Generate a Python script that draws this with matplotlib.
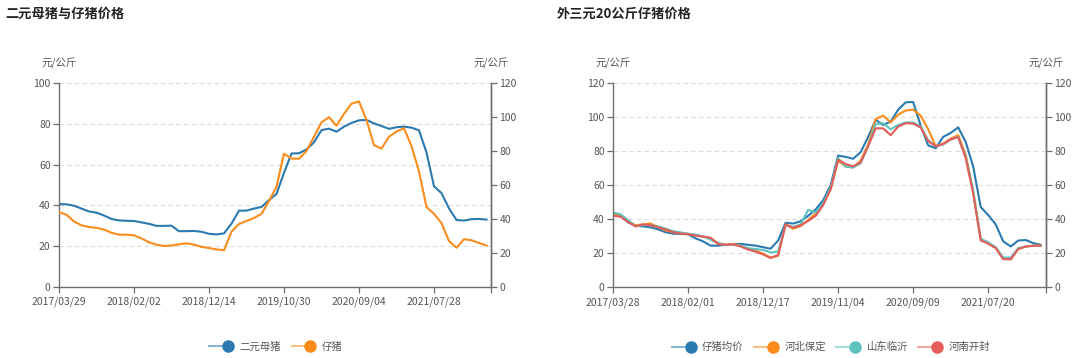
import matplotlib
matplotlib.use('Agg')
import matplotlib.pyplot as plt
from matplotlib.lines import Line2D
from matplotlib.legend_handler import HandlerTuple
import numpy as np

plt.rcParams['font.family'] = ['Noto Sans CJK SC', 'DejaVu Sans']

# ---- left chart: 二元母猪与仔猪价格 (one point every ~ 1/10 of a label interval)
left_ticks = ['2017/03/29', '2018/02/02', '2018/12/14', '2019/10/30', '2020/09/04', '2021/07/28']
sow = [40.6, 40.5, 39.8, 38.4, 37.0, 36.4, 35.0, 33.3, 32.6, 32.4,
       32.3, 31.6, 30.9, 29.9, 29.9, 30.0, 27.3, 27.3, 27.4, 27.0,
       26.0, 25.7, 26.2, 31.0, 37.4, 37.4, 38.4, 39.2, 42.6, 45.6,
       56.0, 65.5, 65.6, 67.5, 71.0, 77.0, 77.7, 76.2, 78.7, 80.5,
       81.8, 82.0, 80.3, 79.0, 77.6, 78.4, 78.7, 78.2, 76.9, 66.0,
       49.4, 46.0, 38.5, 32.8, 32.5, 33.2, 33.3, 33.0]
piglet = [43.9, 42.5, 38.5, 36.2, 35.2, 34.7, 33.7, 31.8, 30.7, 30.7,
          30.3, 28.5, 26.2, 24.8, 24.0, 24.3, 25.0, 25.6, 24.8, 23.5,
          22.8, 22.0, 21.5, 32.5, 37.0, 38.8, 40.5, 43.0, 50.5, 59.0,
          78.5, 75.6, 75.5, 80.0, 88.5, 97.0, 100.0, 95.0, 102.0, 108.0,
          109.3, 98.4, 83.5, 81.5, 88.5, 91.5, 93.5, 83.0, 68.0, 47.0,
          43.0, 37.5, 27.0, 23.0, 28.0, 27.4, 25.8, 24.3]

# ---- right chart: 外三元20公斤仔猪价格
right_ticks = ['2017/03/28', '2018/02/01', '2018/12/17', '2019/11/04', '2020/09/09', '2021/07/20']
avg_price = [43.9, 42.2, 38.2, 36.3, 35.8, 35.3, 34.1, 32.4, 31.6, 31.4,
             31.2, 28.8, 27.0, 24.5, 24.5, 25.0, 25.5, 25.5, 25.0, 24.5,
             23.6, 22.7, 27.5, 38.0, 37.5, 38.8, 42.0, 45.8, 51.2, 60.0,
             77.5, 76.7, 75.6, 79.5, 88.5, 98.5, 95.5, 97.5, 104.5, 108.8,
             109.0, 95.0, 83.5, 81.8, 88.5, 90.8, 94.1, 85.5, 71.0, 47.2,
             42.5, 37.0, 27.0, 24.0, 27.5, 27.8, 26.0, 25.0]
hebei = [43.0, 42.5, 39.0, 36.5, 37.0, 37.5, 35.5, 33.5, 32.5, 32.0,
         31.5, 30.5, 30.0, 28.5, 26.0, 25.0, 25.5, 24.5, 22.5, 21.5,
         19.8, 17.5, 18.5, 37.0, 34.5, 36.0, 39.5, 43.5, 49.0, 58.0,
         74.5, 71.0, 70.5, 74.5, 84.0, 99.0, 101.0, 97.0, 101.5, 104.0,
         104.5, 101.0, 93.0, 83.0, 84.5, 87.5, 89.5, 78.0, 56.0, 28.5,
         26.0, 23.5, 17.0, 16.5, 22.5, 24.0, 24.5, 24.5]
shandong = [44.0, 43.0, 39.5, 36.0, 36.5, 36.5, 35.8, 34.5, 33.0, 32.3,
            31.5, 31.0, 30.0, 28.0, 26.0, 25.0, 25.0, 24.5, 23.0, 22.5,
            22.0, 20.5, 21.0, 36.5, 35.5, 37.0, 45.5, 44.0, 49.5, 58.5,
            76.0, 71.0, 70.5, 73.0, 83.0, 96.0, 96.5, 93.0, 95.5, 97.0,
            97.0, 94.5, 86.5, 83.0, 84.0, 87.0, 88.5, 77.0, 57.0, 28.5,
            26.5, 23.5, 17.5, 17.5, 23.0, 24.0, 24.5, 24.5]
henan = [42.1, 41.5, 38.5, 35.8, 37.0, 36.5, 35.3, 34.0, 32.5, 31.6,
         31.2, 30.4, 29.8, 29.2, 25.5, 25.0, 25.2, 24.0, 22.2, 21.0,
         19.3, 17.2, 19.0, 37.0, 35.0, 36.5, 39.0, 42.0, 48.3, 57.5,
         75.0, 72.5, 71.2, 73.5, 83.0, 93.5, 93.5, 89.5, 94.5, 96.5,
         96.3, 94.0, 86.0, 83.0, 84.3, 87.0, 88.3, 76.0, 55.0, 27.6,
         25.6, 23.0, 16.5, 16.5, 22.5, 24.0, 24.4, 24.5]

BLUE = '#2a7ab0'
ORANGE = '#fb8c1c'
TEAL = '#5ec2c0'
RED = '#e45d5a'
AXC = '#6e6e6e'
TXT = '#555555'
FS = 7.5

fig = plt.figure(figsize=(10.8, 3.58), dpi=100)
axL = fig.add_axes([59 / 1080, 0.1992, (491 - 59) / 1080, 0.5681])
axR = fig.add_axes([613 / 1080, 0.1975, (1046 - 613) / 1080, 0.5698])


def style(ax, ax2, ticks, xmax, lmax, lstep, rmax):
    ax.set_xlim(0, xmax)
    ax.set_ylim(0, lmax)
    ax2.set_ylim(0, rmax)
    ax.set_xticks(np.arange(len(ticks)) * 10)
    ax.set_xticklabels(ticks)
    ax.set_xticks([xmax], minor=True)
    ax.set_yticks(np.arange(0, lmax + 1, lstep))
    ax2.set_yticks(np.arange(0, rmax + 1, 20))
    ax.grid(axis='y', color='#dcdcdc', linestyle=(0, (4, 3)), linewidth=0.8)
    ax.set_axisbelow(True)
    for a in (ax, ax2):
        a.spines['top'].set_visible(False)
        for s in ('left', 'right', 'bottom'):
            a.spines[s].set_color(AXC)
            a.spines[s].set_linewidth(1.0)
        a.tick_params(axis='both', which='both', colors=AXC, labelcolor=TXT,
                      labelsize=FS, length=4, width=0.9, pad=2)
    ax.tick_params(axis='x', pad=3)
    ax2.spines['left'].set_visible(False)
    ax2.spines['bottom'].set_visible(False)
    ax.text(0, 1.097, '元/公斤', transform=ax.transAxes, ha='center', va='center',
            fontsize=FS, color=TXT)
    ax.text(1, 1.097, '元/公斤', transform=ax.transAxes, ha='center', va='center',
            fontsize=FS, color=TXT)


# left chart
axL2 = axL.twinx()
xl = np.arange(len(sow))
axL.plot(xl, sow, color=BLUE, lw=1.5)
axL2.plot(xl, piglet, color=ORANGE, lw=1.5)
style(axL, axL2, left_ticks, 57.6, 100, 20, 120)

# right chart
axR2 = axR.twinx()
xr = np.arange(len(avg_price))
for vals, c in [(avg_price, BLUE), (hebei, ORANGE), (shandong, TEAL), (henan, RED)]:
    axR.plot(xr, vals, color=c, lw=1.5)
style(axR, axR2, right_ticks, 57.7, 120, 20, 120)

fig.text(5 / 1080, 1 - 14 / 358, '二元母猪与仔猪价格', fontsize=9.5, fontweight='bold',
         color='#222222', ha='left', va='center')
fig.text(557 / 1080, 1 - 14 / 358, '外三元20公斤仔猪价格', fontsize=9.5, fontweight='bold',
         color='#222222', ha='left', va='center')


def handles(colors):
    hs = []
    for c in colors:
        ln = Line2D([], [], color=c, lw=1.5, alpha=0.55)
        mk = Line2D([], [], color=c, marker='o', ms=8, ls='none')
        hs.append((ln, mk))
    return hs


legL = fig.legend(handles([BLUE, ORANGE]), ['二元母猪', '仔猪'], loc='center',
                  bbox_to_anchor=(276 / 1080, 1 - 347 / 358), ncol=2, frameon=False,
                  fontsize=FS, handlelength=2.4, columnspacing=1.0, handletextpad=0.5,
                  handler_map={tuple: HandlerTuple(ndivide=None, pad=0)}, labelcolor=TXT)
legR = fig.legend(handles([BLUE, ORANGE, TEAL, RED]), ['仔猪均价', '河北保定', '山东临沂', '河南开封'],
                  loc='center', bbox_to_anchor=(831 / 1080, 1 - 347 / 358), ncol=4,
                  frameon=False, fontsize=FS, handlelength=2.4, columnspacing=1.0,
                  handletextpad=0.5, handler_map={tuple: HandlerTuple(ndivide=None, pad=0)},
                  labelcolor=TXT)

fig.savefig('out.png', dpi=100)
